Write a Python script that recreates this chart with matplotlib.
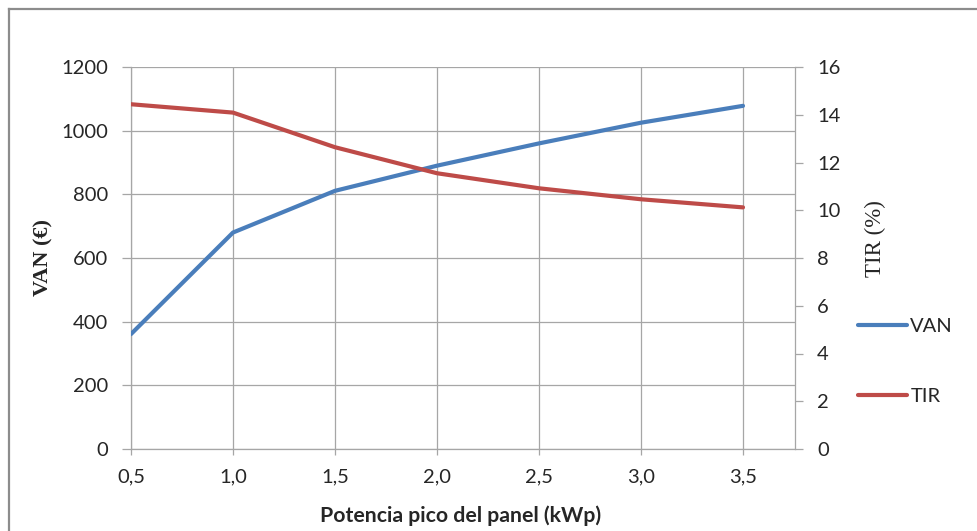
import matplotlib
matplotlib.use("Agg")
import matplotlib.pyplot as plt
from matplotlib.lines import Line2D

# Peak panel power (kWp) and resulting NPV (VAN, €) and IRR (TIR, %)
potencia = [0.5, 1.0, 1.5, 2.0, 2.5, 3.0, 3.5]
van = [361, 680, 811, 890, 960, 1025, 1078]
tir = [14.44, 14.09, 12.64, 11.55, 10.92, 10.46, 10.12]

x_ticks = [0.5, 1.0, 1.5, 2.0, 2.5, 3.0, 3.5]
x_tick_labels = ["0,5", "1,0", "1,5", "2,0", "2,5", "3,0", "3,5"]
van_ticks = [0, 200, 400, 600, 800, 1000, 1200]
tir_ticks = [0, 2, 4, 6, 8, 10, 12, 14, 16]

BLUE = "#4A7EBB"
RED = "#BE4B48"
GRID = "#A6A6A6"
TEXT = "#262626"
SANS = ["Lato", "DejaVu Sans"]
SERIF = ["Liberation Serif", "DejaVu Serif"]
FS = 14.5

fig = plt.figure(figsize=(9.77, 5.31), dpi=100)
W, H = 977, 531
ax = fig.add_axes([131 / W, 1 - 449 / H, (795 - 131) / W, (449 - 67) / H])
ax2 = ax.twinx()

# Outer chart frame (left and top edges)
fig.add_artist(Line2D([9 / W, 9 / W], [0, 1 - 9 / H], color="#8C8C8C", lw=1.6))
fig.add_artist(Line2D([9 / W, 1], [1 - 9 / H, 1 - 9 / H], color="#8C8C8C", lw=1.6))

l1, = ax.plot(potencia, van, color=BLUE, lw=3.0, solid_capstyle="round", label="VAN", zorder=3)
l2, = ax2.plot(potencia, tir, color=RED, lw=3.0, solid_capstyle="round", label="TIR", zorder=3)

ax.set_xlim(0.5, 0.5 + (795 - 131) / 204)
ax.set_ylim(0, 1200)
ax2.set_ylim(0, 16)

ax.set_xticks(x_ticks)
ax.set_xticklabels(x_tick_labels)
ax.set_yticks(van_ticks)
ax2.set_yticks(tir_ticks)

ax.grid(True, color=GRID, lw=0.9)
ax.set_axisbelow(True)

for a in (ax, ax2):
    for s in a.spines.values():
        s.set_visible(False)
ax.spines["left"].set_visible(True)
ax.spines["bottom"].set_visible(True)
ax2.spines["right"].set_visible(True)
for s in (ax.spines["left"], ax.spines["bottom"], ax2.spines["right"]):
    s.set_color(GRID)
    s.set_linewidth(0.9)

ax.tick_params(axis="y", which="both", direction="out", length=6.5, width=0.9,
               color=GRID, pad=10, labelsize=FS, labelcolor=TEXT, right=False)
ax.tick_params(axis="x", direction="out", length=4.3, width=0.9,
               color=GRID, pad=10, labelsize=FS, labelcolor=TEXT)
ax2.tick_params(axis="y", direction="out", length=5.8, width=0.9,
                color=GRID, pad=10, labelsize=FS, labelcolor=TEXT)

for lab in ax.get_xticklabels() + ax.get_yticklabels() + ax2.get_yticklabels():
    lab.set_fontfamily(SANS)

ax.set_xlabel("Potencia pico del panel (kWp)", family=SANS, fontsize=15.3,
              fontweight="bold", color=TEXT)
ax.xaxis.set_label_coords(0.497, -0.175)
ax.xaxis.label.set_va("center")
ax.set_ylabel("VAN (€)", family=SERIF, fontsize=16, fontweight="bold", color=TEXT)
ax.yaxis.set_label_coords(-0.1325, 0.5)
ax2.set_ylabel("TIR (%)", family=SERIF, fontsize=16.5, color=TEXT)
ax2.yaxis.set_label_coords(1.1205, 0.55)
ax2.yaxis.label.set_va("center")
ax.yaxis.label.set_va("center")

leg = fig.legend(handles=[l1, l2], loc="upper left",
                 bbox_to_anchor=(858 / W, 1 - 318 / H),
                 frameon=False, handlelength=2.45, handletextpad=0.15,
                 labelspacing=2.6, borderaxespad=0, borderpad=0,
                 prop={"family": SANS, "size": FS})
for t in leg.get_texts():
    t.set_color(TEXT)

fig.savefig("out.png", dpi=100, facecolor="white")
